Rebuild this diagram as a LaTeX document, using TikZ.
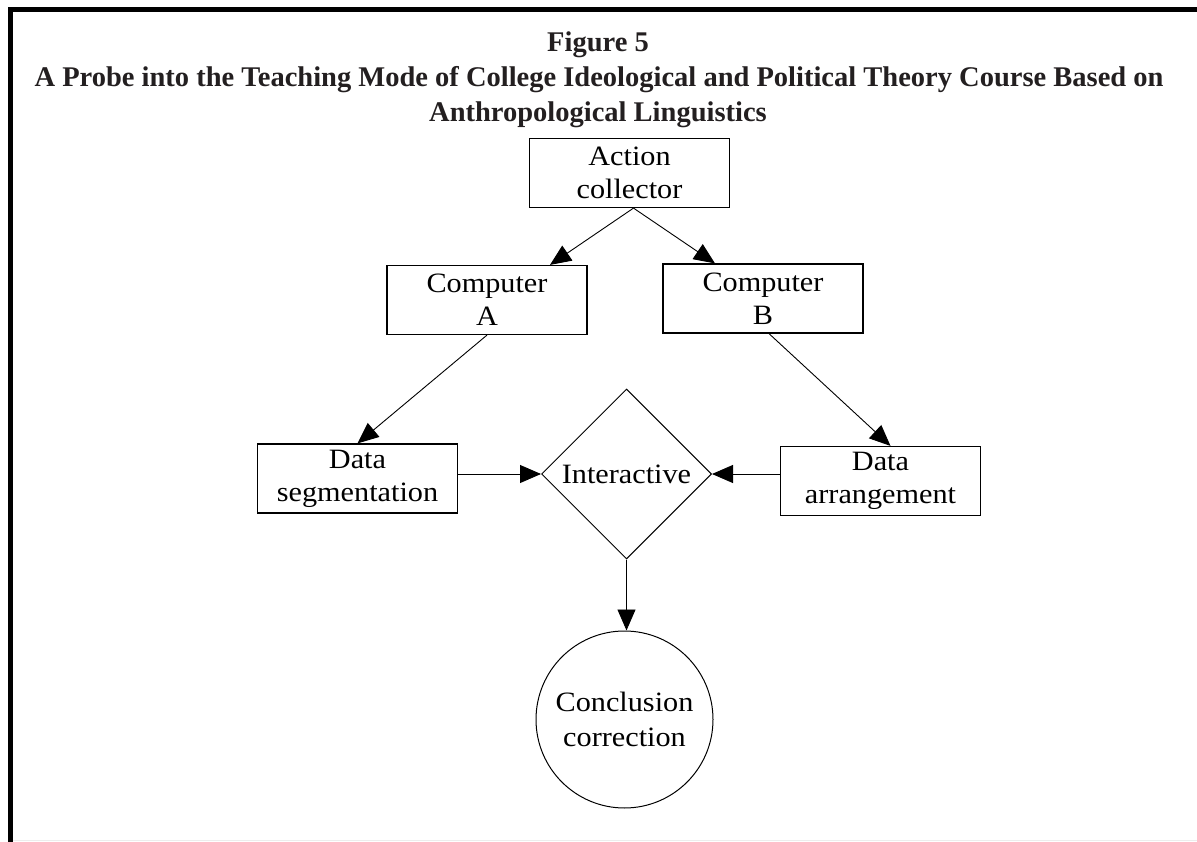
\documentclass[tikz,border=0pt]{standalone}
\usepackage{fontspec}
\setmainfont{Liberation Serif}
\newfontfamily\nodefont[FakeStretch=1.08]{Liberation Serif}
\usetikzlibrary{shapes.geometric,arrows.meta,calc}
\definecolor{ink}{HTML}{231F20}
\begin{document}
\begin{tikzpicture}[x=1pt,y=-1pt,
  titleline/.style={anchor=base, inner sep=0pt, text=ink,
    font=\fontsize{28.5}{30}\selectfont\bfseries},
  stepbox/.style={draw, line width=1.2pt, minimum width=200pt, minimum height=69pt,
    inner sep=0pt, align=center, font=\nodefont\fontsize{28}{33}\selectfont},
  decision/.style={draw, diamond, aspect=1, line width=1pt, minimum width=170pt,
    minimum height=170pt, inner sep=0pt, font=\nodefont\fontsize{28}{33}\selectfont},
  endstate/.style={draw, circle, line width=1pt, minimum size=177pt, inner sep=0pt,
    align=center, font=\nodefont\fontsize{28}{35}\selectfont},
  flow/.style={-{Triangle[length=21pt,width=18pt]}, line width=0.9pt},
]
\useasboundingbox (0,0) rectangle (1197,842);

% frame
\draw[line width=5pt] (1197,10) -- (10,10) -- (10,842);
\draw[line width=1pt, black!7] (13,840.5) -- (1197,840.5);

% heading
\node[titleline] (t1) at (598,52) {Figure 5};
\node[titleline] (t2) at (599,87) {A Probe into the Teaching Mode of College Ideological and Political Theory Course Based on};
\node[titleline] (t3) at (598,122) {Anthropological Linguistics};

% flow chart
\node[stepbox] (act) at (629.5,173) {Action\\collector};
\node[stepbox] (ca) at (487,300) {Computer\\A};
\node[stepbox] (cb) at (763,298.5) {Computer\\B};
\node[stepbox] (ds) at (357.5,478.5) {Data\\segmentation};
\node[stepbox] (da) at (880.5,481) {Data\\arrangement};
\node[decision] (dia) at (626.5,474) {\raisebox{-3pt}{Interactive}};
\node[endstate] (cc) at (624.5,719.5) {Conclusion\\correction};

\draw[flow] ($(act.south)+(4,0)$) -- ($(ca.north)+(63,0)$);
\draw[flow] ($(act.south)+(4,0)$) -- ($(cb.north)+(-48,0)$);
\draw[flow] (ca.south) -- (ds.north);
\draw[flow] ($(cb.south)+(6,0)$) -- ($(da.north)+(10,0)$);
\draw[flow] (ds.east |- dia.west) -- (dia.west);
\draw[flow] (da.west |- dia.east) -- (dia.east);
\draw[flow] (dia.south) -- (dia.south |- cc.north);
\end{tikzpicture}
\end{document}
